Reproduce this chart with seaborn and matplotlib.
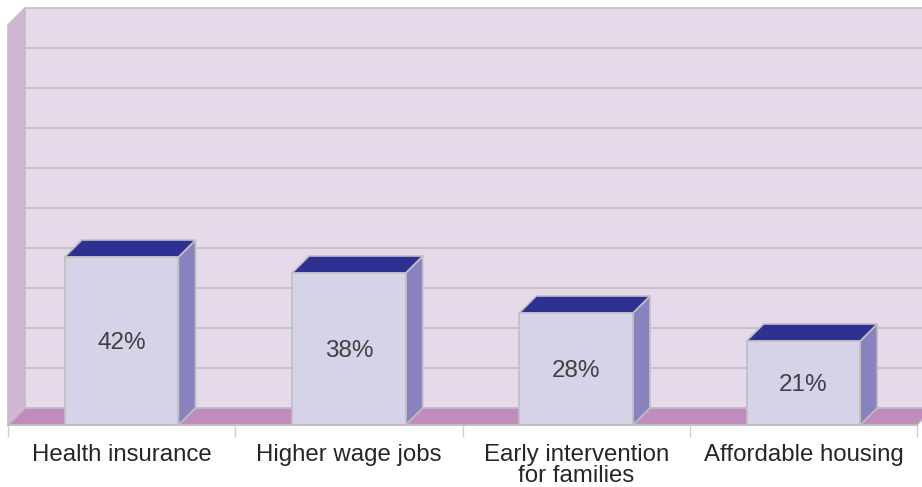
import matplotlib
matplotlib.use("Agg")
import matplotlib.pyplot as plt
from matplotlib.patches import Polygon
import seaborn as sns
import pandas as pd

categories = ["Health insurance", "Higher wage jobs",
              "Early intervention\nfor families", "Affordable housing"]
values = [42, 38, 28, 21]
value_labels = ["42%", "38%", "28%", "21%"]

WALL = "#e6d9ea"
SIDE_WALL = "#d3b5d6"
FLOOR = "#bf8cbd"
BAR_FRONT = "#d6d3e9"
BAR_SIDE = "#8883bf"
BAR_TOP = "#2e3192"
EDGE = "#bfbfbf"
TEXT = "#262626"

sns.set_theme(style="white")
plt.rcParams["font.family"] = ["Liberation Sans", "DejaVu Sans"]

W, H = 922, 487
fig = plt.figure(figsize=(W / 100, H / 100), dpi=100)
# front plane of the chart box: x 8..917 px, y 25..425 px
ax = fig.add_axes([8 / W, (H - 425) / H, 909 / W, 400 / H])

df = pd.DataFrame({"category": categories, "value": values})
sns.barplot(data=df, x="category", y="value", order=categories,
            color=BAR_FRONT, saturation=1, width=0.5, ax=ax,
            edgecolor=EDGE, linewidth=1.2, zorder=3)
bars = list(ax.containers[0])

ax.set_xlim(-0.5, 3.5)
ax.set_ylim(0, 100)

# depth offset of the 3-D look, in data units (17 px each way)
DX = 17 / 227.25
DY = 17 / 4.0

def face(pts, color, z, lw=1.2):
    ax.add_patch(Polygon(pts, closed=True, facecolor=color, edgecolor=EDGE,
                         linewidth=lw, zorder=z, clip_on=False,
                         joinstyle="miter"))

# back wall with gridlines
x_end = 3.5 + 3 * DX
face([(-0.5 + DX, DY), (x_end, DY), (x_end, 100 + DY), (-0.5 + DX, 100 + DY)],
     WALL, 0.1, lw=0)
for k in range(11):
    y = DY + 10 * k
    ax.plot([-0.5 + DX, x_end], [y, y], color=EDGE, lw=1.2, zorder=0.2,
            clip_on=False, solid_capstyle="butt")

# left side wall and floor
face([(-0.5, 0), (-0.5 + DX, DY), (-0.5 + DX, 100 + DY), (-0.5, 100)],
     SIDE_WALL, 0.3)
face([(-0.5, 0), (3.5, 0), (3.5 + DX, DY), (-0.5 + DX, DY)], FLOOR, 0.3)

for bar, lab in zip(bars, value_labels):
    bar.set_facecolor(BAR_FRONT)
    bar.set_clip_on(False)
    x0, w, h = bar.get_x(), bar.get_width(), bar.get_height()
    x1 = x0 + w
    face([(x1, 0), (x1 + DX, DY), (x1 + DX, h + DY), (x1, h)], BAR_SIDE, 2.9)
    face([(x0, h), (x1, h), (x1 + DX, h + DY), (x0 + DX, h + DY)], BAR_TOP, 2.9)
    ax.text(x0 + w / 2, h / 2 - 0.4, lab, ha="center", va="center",
            fontsize=17.5, color="#404040", zorder=4)

ax.set_xlabel("")
ax.set_ylabel("")
ax.set_yticks([])
ax.set_xticks([-0.5, 0.5, 1.5, 2.5, 3.5], minor=False)
ax.set_xticklabels([])
ax.tick_params(axis="x", which="major", length=8.5, width=1, color="#d0d0d0",
               direction="out", bottom=True)
ax.set_xticks(range(4), minor=True)
ax.set_xticklabels(categories, minor=True, fontsize=17.3, color=TEXT,
                   linespacing=0.95)
ax.tick_params(axis="x", which="minor", length=0, pad=13.5)
for s in ["top", "right", "left"]:
    ax.spines[s].set_visible(False)
ax.spines["bottom"].set_color(EDGE)
ax.spines["bottom"].set_linewidth(1.2)
ax.spines["bottom"].set_zorder(5)
ax.patch.set_alpha(0)

fig.savefig("out.png", dpi=100)
